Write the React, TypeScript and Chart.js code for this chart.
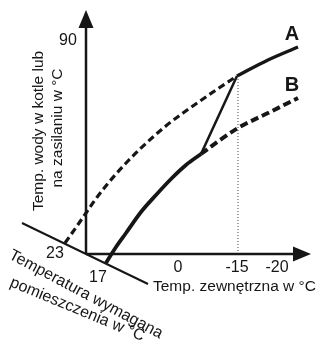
import React, { useEffect, useRef } from "react";
import { Chart, registerables } from "chart.js";

Chart.register(...registerables);

// Schematic diagram units (x: 0..320 left→right, y: 0..342 top→bottom)
const curveADashedX = [65, 77, 86, 95, 105, 116, 128, 140, 153, 167, 183, 200, 219, 237];
const curveADashedY = [243, 226, 213, 200, 187, 174, 161, 149, 137, 125, 113, 101, 88, 76];
const curveASolidX = [237, 268, 298];
const curveASolidY = [76, 60, 47];
const curveBSolidX = [106, 116, 126, 141, 156, 171, 186, 201];
const curveBSolidY = [263, 247, 233, 212, 195, 179, 165, 154];
const curveBDashedX = [201, 220, 238, 270, 298];
const curveBDashedY = [154, 140, 128, 112, 98];
const connectorX = [201, 237];
const connectorY = [154, 76];

const originX = 86;
const originY = 254;
const yAxisTop = 10;
const xAxisEnd = 311;
const roomAxisX = [22, 148];
const roomAxisY = [223, 284];
const markerX = 238; // -15 °C reference
const markerTopY = 76;

const xTickLabels = ["0", "-15", "-20"];
const xTickPos = [178, 237, 277];
const yTickLabels = ["90"];
const yTickPos = [41];
const roomTickLabels = ["23", "17"];
const roomTickPosX = [55, 98];
const roomTickPosY = [254, 278];
const seriesLabels = ["A", "B"];
const seriesLabelY = [34, 85];

const yTitle = ["Temp. wody w kotle lub", "na zasilaniu w °C"];
const xTitle = "Temp. zewnętrzna w °C";
const roomTitle = ["Temperatura wymagana", "pomieszczenia w °C"];

const FONT = '"Liberation Sans", Arial, Helvetica, sans-serif';
const INK = "#161616";

const pts = (xs: number[], ys: number[]) => xs.map((x, i) => ({ x, y: ys[i] }));

export default function App() {
  const ref = useRef<HTMLCanvasElement | null>(null);
  useEffect(() => {
    if (!ref.current) return;
    const decor = {
      id: "decor",
      afterDatasetsDraw(chart: any) {
        const { ctx, scales } = chart;
        const X = (v: number) => scales.x.getPixelForValue(v);
        const Y = (v: number) => scales.y.getPixelForValue(v);
        ctx.save();
        ctx.fillStyle = INK;
        // arrow heads
        ctx.beginPath();
        ctx.moveTo(X(originX), Y(yAxisTop));
        ctx.lineTo(X(originX - 7.5), Y(yAxisTop + 18));
        ctx.lineTo(X(originX + 7.5), Y(yAxisTop + 18));
        ctx.closePath();
        ctx.fill();
        ctx.beginPath();
        ctx.moveTo(X(xAxisEnd), Y(originY));
        ctx.lineTo(X(xAxisEnd - 18), Y(originY - 7.5));
        ctx.lineTo(X(xAxisEnd - 18), Y(originY + 7.5));
        ctx.closePath();
        ctx.fill();

        ctx.font = `16px ${FONT}`;
        ctx.textAlign = "center";
        ctx.textBaseline = "middle";
        xTickLabels.forEach((t, i) => ctx.fillText(t, X(xTickPos[i]), Y(268)));
        yTickLabels.forEach((t, i) => ctx.fillText(t, X(68), Y(yTickPos[i])));
        roomTickLabels.forEach((t, i) => ctx.fillText(t, X(roomTickPosX[i]), Y(roomTickPosY[i])));

        ctx.font = `15.5px ${FONT}`;
        ctx.textAlign = "left";
        ctx.fillText(xTitle, X(153), Y(287));

        ctx.font = `bold 20px ${FONT}`;
        ctx.textAlign = "center";
        seriesLabels.forEach((t, i) => ctx.fillText(t, X(292), Y(seriesLabelY[i])));

        // vertical title
        ctx.font = `15.5px ${FONT}`;
        ctx.textBaseline = "alphabetic";
        ctx.save();
        ctx.translate(X(43), Y(131));
        ctx.rotate(-Math.PI / 2);
        ctx.fillText(yTitle[0], 0, 0);
        ctx.restore();
        ctx.save();
        ctx.translate(X(62), Y(128));
        ctx.rotate(-Math.PI / 2);
        ctx.fillText(yTitle[1], 0, 0);
        ctx.restore();

        // oblique title
        ctx.font = `16px ${FONT}`;
        ctx.textAlign = "left";
        ctx.save();
        ctx.translate(X(8), Y(258));
        ctx.rotate((28 * Math.PI) / 180);
        ctx.fillText(roomTitle[0], 0, 0);
        ctx.restore();
        ctx.save();
        ctx.translate(X(9), Y(286));
        ctx.rotate((22.5 * Math.PI) / 180);
        ctx.fillText(roomTitle[1], 0, 0);
        ctx.restore();
        ctx.restore();
      },
    };
    const base = { pointRadius: 0, fill: false, borderColor: INK, tension: 0 };
    const smooth = { cubicInterpolationMode: "monotone" as const };
    const chart = new Chart(ref.current, {
      type: "line",
      data: {
        datasets: [
          { ...base, data: pts([originX, originX], [originY, yAxisTop + 16]), borderWidth: 2.5 },
          { ...base, data: pts([originX, xAxisEnd - 16], [originY, originY]), borderWidth: 2.5 },
          { ...base, data: pts(roomAxisX, roomAxisY), borderWidth: 2 },
          { ...base, data: pts([markerX, markerX], [markerTopY, originY]), borderWidth: 1, borderDash: [1, 2], borderColor: "#444" },
          { ...base, ...smooth, data: pts(curveADashedX, curveADashedY), borderWidth: 3.2, borderDash: [7, 4] },
          { ...base, ...smooth, data: pts(curveASolidX, curveASolidY), borderWidth: 3.5 },
          { ...base, ...smooth, data: pts(curveBSolidX, curveBSolidY), borderWidth: 3.8 },
          { ...base, ...smooth, data: pts(curveBDashedX, curveBDashedY), borderWidth: 4, borderDash: [8, 4] },
          { ...base, data: pts(connectorX, connectorY), borderWidth: 2.5 },
        ],
      },
      options: {
        responsive: false,
        animation: false,
        parsing: false as any,
        layout: { padding: 0 },
        scales: {
          x: { type: "linear", min: 0, max: 320, display: false },
          y: { type: "linear", min: 0, max: 342, reverse: true, display: false },
        },
        plugins: { legend: { display: false }, tooltip: { enabled: false } },
        elements: { line: { borderCapStyle: "butt" } },
      },
      plugins: [decor],
    });
    return () => chart.destroy();
  }, []);
  return (
    <div style={{ position: "absolute", left: 0, top: 0, width: 320, height: 342, background: "#fff" }}>
      <canvas ref={ref} width={320} height={342} style={{ display: "block" }} />
    </div>
  );
}
